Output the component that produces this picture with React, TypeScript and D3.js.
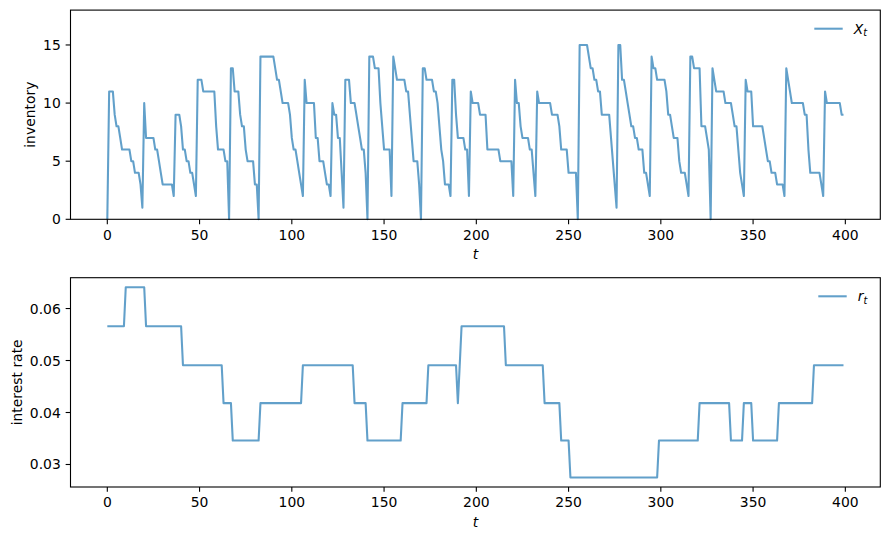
import React from "react";
import * as d3 from "d3";

// inventory X_t (t = 0..399)
const inventory = [
  0, 11, 11, 11, 9, 8, 8, 7, 6, 6,
  6, 6, 6, 5, 5, 4, 4, 4, 3, 1,
  10, 7, 7, 7, 7, 7, 6, 6, 5, 4,
  3, 3, 3, 3, 3, 3, 2, 9, 9, 9,
  8, 6, 6, 5, 5, 4, 4, 3, 2, 12,
  12, 12, 11, 11, 11, 11, 11, 11, 11, 8,
  6, 6, 6, 6, 5, 5, 0, 13, 13, 11,
  11, 11, 9, 8, 8, 6, 5, 5, 5, 5,
  3, 3, 0, 14, 14, 14, 14, 14, 14, 14,
  14, 13, 12, 12, 11, 10, 10, 10, 10, 9,
  7, 6, 6, 5, 4, 3, 2, 12, 10, 10,
  10, 10, 10, 7, 7, 5, 5, 5, 4, 3,
  3, 2, 10, 9, 9, 7, 7, 4, 1, 12,
  12, 12, 10, 10, 10, 9, 8, 7, 6, 6,
  4, 0, 14, 14, 14, 13, 13, 13, 10, 8,
  6, 6, 6, 6, 2, 14, 13, 12, 12, 12,
  12, 12, 11, 11, 9, 7, 5, 5, 5, 3,
  0, 13, 13, 12, 12, 12, 12, 11, 11, 10,
  8, 6, 5, 3, 3, 3, 2, 12, 12, 9,
  7, 7, 7, 7, 6, 6, 2, 11, 10, 10,
  10, 10, 9, 9, 9, 9, 6, 6, 6, 6,
  6, 6, 6, 5, 5, 5, 5, 5, 5, 5,
  2, 12, 10, 10, 8, 7, 7, 7, 7, 6,
  6, 4, 2, 11, 10, 10, 10, 10, 10, 10,
  10, 9, 9, 9, 9, 8, 6, 6, 6, 6,
  4, 4, 4, 4, 4, 0, 15, 15, 15, 15,
  15, 14, 13, 13, 12, 12, 11, 11, 9, 9,
  9, 9, 9, 7, 5, 3, 1, 15, 15, 12,
  12, 11, 10, 9, 8, 8, 7, 7, 6, 6,
  6, 4, 4, 3, 2, 14, 13, 13, 12, 12,
  12, 12, 12, 11, 9, 9, 8, 7, 7, 7,
  5, 4, 4, 4, 3, 2, 14, 14, 13, 13,
  13, 13, 8, 8, 8, 7, 6, 0, 13, 12,
  11, 11, 11, 11, 11, 10, 10, 10, 10, 9,
  8, 8, 6, 4, 3, 2, 12, 11, 11, 11,
  8, 8, 8, 8, 8, 8, 7, 6, 5, 5,
  4, 4, 4, 3, 3, 3, 3, 2, 13, 12,
  11, 10, 10, 10, 10, 10, 10, 10, 9, 9,
  6, 4, 4, 4, 4, 4, 4, 3, 2, 11,
  10, 10, 10, 10, 10, 10, 10, 10, 9, 9,
];

// the interest rate takes one of these levels
const rateLevels = [0.0275, 0.0346, 0.0418, 0.0491, 0.0566, 0.0641];

// index into rateLevels for each t = 0..399
const rateState = [
  4, 4, 4, 4, 4, 4, 4, 4, 4, 4, 5, 5, 5, 5, 5, 5, 5, 5, 5, 5,
  5, 4, 4, 4, 4, 4, 4, 4, 4, 4, 4, 4, 4, 4, 4, 4, 4, 4, 4, 4,
  4, 3, 3, 3, 3, 3, 3, 3, 3, 3, 3, 3, 3, 3, 3, 3, 3, 3, 3, 3,
  3, 3, 3, 2, 2, 2, 2, 2, 1, 1, 1, 1, 1, 1, 1, 1, 1, 1, 1, 1,
  1, 1, 1, 2, 2, 2, 2, 2, 2, 2, 2, 2, 2, 2, 2, 2, 2, 2, 2, 2,
  2, 2, 2, 2, 2, 2, 3, 3, 3, 3, 3, 3, 3, 3, 3, 3, 3, 3, 3, 3,
  3, 3, 3, 3, 3, 3, 3, 3, 3, 3, 3, 3, 3, 3, 2, 2, 2, 2, 2, 2,
  2, 1, 1, 1, 1, 1, 1, 1, 1, 1, 1, 1, 1, 1, 1, 1, 1, 1, 1, 1,
  2, 2, 2, 2, 2, 2, 2, 2, 2, 2, 2, 2, 2, 2, 3, 3, 3, 3, 3, 3,
  3, 3, 3, 3, 3, 3, 3, 3, 3, 3, 2, 3, 4, 4, 4, 4, 4, 4, 4, 4,
  4, 4, 4, 4, 4, 4, 4, 4, 4, 4, 4, 4, 4, 4, 4, 4, 3, 3, 3, 3,
  3, 3, 3, 3, 3, 3, 3, 3, 3, 3, 3, 3, 3, 3, 3, 3, 3, 2, 2, 2,
  2, 2, 2, 2, 2, 2, 1, 1, 1, 1, 1, 0, 0, 0, 0, 0, 0, 0, 0, 0,
  0, 0, 0, 0, 0, 0, 0, 0, 0, 0, 0, 0, 0, 0, 0, 0, 0, 0, 0, 0,
  0, 0, 0, 0, 0, 0, 0, 0, 0, 0, 0, 0, 0, 0, 0, 0, 0, 0, 0, 1,
  1, 1, 1, 1, 1, 1, 1, 1, 1, 1, 1, 1, 1, 1, 1, 1, 1, 1, 1, 1,
  1, 2, 2, 2, 2, 2, 2, 2, 2, 2, 2, 2, 2, 2, 2, 2, 2, 2, 1, 1,
  1, 1, 1, 1, 1, 2, 2, 2, 2, 2, 1, 1, 1, 1, 1, 1, 1, 1, 1, 1,
  1, 1, 1, 1, 2, 2, 2, 2, 2, 2, 2, 2, 2, 2, 2, 2, 2, 2, 2, 2,
  2, 2, 2, 3, 3, 3, 3, 3, 3, 3, 3, 3, 3, 3, 3, 3, 3, 3, 3, 3,
];
const rate = rateState.map((s) => rateLevels[s]);

const xTicks = [0, 50, 100, 150, 200, 250, 300, 350, 400];
const inventoryTicks = [0, 5, 10, 15];
const rateTicks = [0.03, 0.04, 0.05, 0.06];

const W = 889;
const H = 540;
const FS = 13.9;
const FONT = "DejaVu Sans, sans-serif";
const left = 70.5;
const right = 880.3;

const x = d3.scaleLinear().domain([-19.95, 418.95]).range([left, right]);

function Panel({
  data,
  y,
  yTicks,
  fmt,
  top,
  bottom,
  ylabel,
  ylabelX,
  legendX,
  sym,
}: any) {
  const line = d3
    .line<number>()
    .x((d, i) => x(i))
    .y((d) => y(d));
  const tickLen = 4.86;
  const pad = 4.86;
  const legendY = top + 18.6;
  return (
    <g>
      <path
        d={line(data) || ""}
        fill="none"
        stroke="#1f77b4"
        strokeOpacity={0.7}
        strokeWidth={2.08}
        strokeLinejoin="round"
      />
      <rect
        x={left}
        y={top}
        width={right - left}
        height={bottom - top}
        fill="none"
        stroke="#000"
        strokeWidth={1.1}
      />
      {xTicks.map((t) => (
        <g key={"x" + t}>
          <line x1={x(t)} x2={x(t)} y1={bottom} y2={bottom + tickLen} stroke="#000" strokeWidth={1.1} />
          <text x={x(t)} y={bottom + tickLen + pad} dy="0.76em" textAnchor="middle" fontSize={FS} fontFamily={FONT}>
            {t}
          </text>
        </g>
      ))}
      {yTicks.map((t: number) => (
        <g key={"y" + t}>
          <line x1={left - tickLen} x2={left} y1={y(t)} y2={y(t)} stroke="#000" strokeWidth={1.1} />
          <text x={left - tickLen - pad} y={y(t)} dy="0.36em" textAnchor="end" fontSize={FS} fontFamily={FONT}>
            {fmt(t)}
          </text>
        </g>
      ))}
      <text
        x={(left + right) / 2}
        y={bottom + 40}
        textAnchor="middle"
        fontSize={FS}
        fontFamily={FONT}
        fontStyle="italic"
      >
        t
      </text>
      <text
        transform={`translate(${ylabelX},${(top + bottom) / 2}) rotate(-90)`}
        dy="0.36em"
        textAnchor="middle"
        fontSize={FS}
        fontFamily={FONT}
      >
        {ylabel}
      </text>
      <line
        x1={legendX}
        x2={legendX + 28.4}
        y1={legendY}
        y2={legendY}
        stroke="#1f77b4"
        strokeOpacity={0.7}
        strokeWidth={2.08}
      />
      <text x={legendX + 39.5} y={legendY} dy="0.36em" fontSize={FS} fontFamily={FONT}>
        <tspan fontStyle="italic">{sym}</tspan>
        <tspan fontStyle="italic" fontSize={FS * 0.7} dy="0.25em">
          t
        </tspan>
      </text>
    </g>
  );
}

export default function App() {
  const topBox = { top: 10.1, bottom: 219.3 };
  const botBox = { top: 277.7, bottom: 487 };
  const yInv = d3.scaleLinear().domain([0, 18]).range([topBox.bottom, topBox.top]);
  const [rMin, rMax] = d3.extent(rate) as [number, number];
  const m = (rMax - rMin) * 0.05;
  const yRate = d3
    .scaleLinear()
    .domain([rMin - m, rMax + m])
    .range([botBox.bottom, botBox.top]);

  return (
    <svg
      width={W}
      height={H}
      style={{ position: "absolute", left: 0, top: 0, background: "#fff" }}
    >
      <rect width={W} height={H} fill="#fff" />
      <Panel
        data={inventory}
        y={yInv}
        yTicks={inventoryTicks}
        fmt={d3.format("d")}
        top={topBox.top}
        bottom={topBox.bottom}
        ylabel="inventory"
        ylabelX={30}
        legendX={814.3}
        sym="X"
      />
      <Panel
        data={rate}
        y={yRate}
        yTicks={rateTicks}
        fmt={d3.format(".2f")}
        top={botBox.top}
        bottom={botBox.bottom}
        ylabel="interest rate"
        ylabelX={16.7}
        legendX={818.3}
        sym="r"
      />
    </svg>
  );
}
